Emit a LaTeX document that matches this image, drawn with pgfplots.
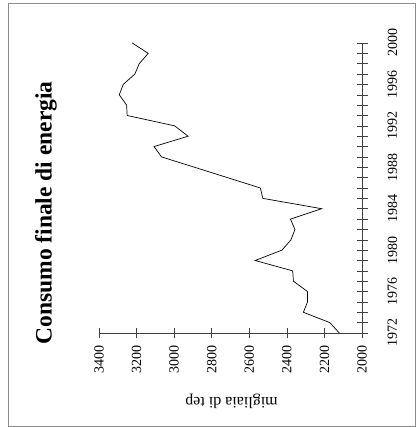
\documentclass[border=0pt]{standalone}
\usepackage{pgfplots}
\pgfplotsset{compat=1.18}
\usepackage{fontspec}
\setmainfont{Liberation Serif}
\begin{document}
\begin{tikzpicture}
\useasboundingbox (0pt,0pt) rectangle (417pt,427pt);
\draw[black!45, line width=0.5pt] (8pt,0.5pt) rectangle (415pt,424pt);
\begin{axis}[
  at={(99pt,94pt)}, anchor=south west,
  scale only axis, width=263pt, height=290pt,
  xmin=2000, xmax=3400, ymin=1972, ymax=2000,
  x dir=reverse,
  axis x line=bottom, axis y line=right,
  axis line style={black!75, line width=0.6pt, -},
  xtick={2000,2200,...,3400},
  ytick={1972,1976,...,2000},
  minor ytick={1972,...,2000},
  tick align=center,
  major tick length=11pt, minor tick length=11pt,
  tick style={black!75, line width=0.5pt},
  /pgf/number format/assume math mode=true,
  /pgf/number format/1000 sep={},
  xticklabel style={rotate=90, anchor=east, inner sep=0pt, font=\fontsize{14}{15}\selectfont},
  yticklabel style={rotate=90, anchor=north, inner sep=0pt, font=\fontsize{14}{15}\selectfont},
  xticklabel shift=7pt,
  yticklabel shift=20pt,
  clip=false,
]
\addplot[black, line width=0.7pt] coordinates {
(2121,1972) (2171,1973) (2312,1974) (2290,1975) (2290,1976) (2365,1977)
(2369,1978) (2569,1979) (2426,1980) (2378,1981) (2357,1982) (2381,1983)
(2215,1984) (2528,1985) (2541,1986) (2716,1987) (2891,1988) (3067,1989)
(3107,1990) (2926,1991) (2997,1992) (3250,1993) (3253,1994) (3292,1995)
(3271,1996) (3209,1997) (3186,1998) (3138,1999) (3223,2000)
};
\end{axis}
\node[rotate=90, font=\fontsize{23.5}{26}\selectfont\bfseries] at (46pt,214pt) {Consumo finale di energia};
\node[rotate=180, font=\fontsize{16}{18}\selectfont] at (231.5pt,25.5pt) {migliaia di tep};
\end{tikzpicture}
\end{document}
